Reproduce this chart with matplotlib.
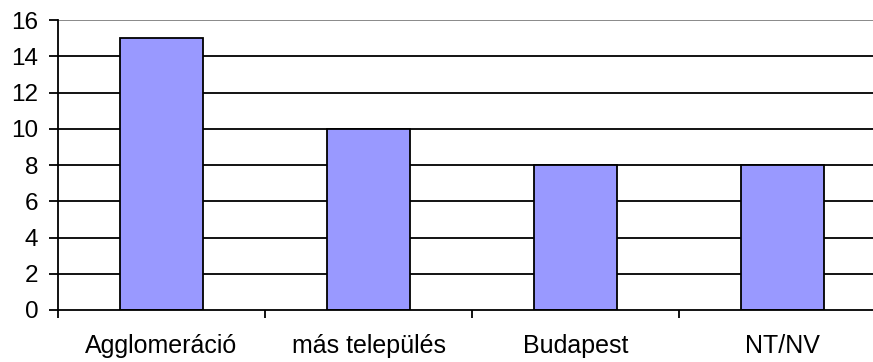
import matplotlib.pyplot as plt

categories = ['Agglomeráció', 'más település', 'Budapest', 'NT/NV']
values = [15, 10, 8, 8]
y_ticks = [0, 2, 4, 6, 8, 10, 12, 14, 16]

plt.rcParams['font.family'] = ['Liberation Sans', 'DejaVu Sans']

fig = plt.figure(figsize=(8.73, 3.62), dpi=100)
ax = fig.add_axes([58 / 873, 52 / 362, 828 / 873, 290 / 362])

x = list(range(len(categories)))
ax.bar(x, values, width=0.4, color='#9999ff', edgecolor='black', linewidth=1.3, zorder=3)

ax.set_xlim(-0.5, len(categories) - 0.5)
ax.set_ylim(0, 16)
ax.set_yticks(y_ticks)
for t in y_ticks[1:-1]:
    ax.axhline(t, color='black', linewidth=1.3, zorder=1)
ax.axhline(16, color='#808080', linewidth=1.3, zorder=1)

# category boundaries as major ticks, labels on minor ticks
ax.set_xticks([i - 0.5 for i in range(len(categories))])
ax.set_xticklabels([])
ax.set_xticks(x, minor=True)
ax.set_xticklabels(categories, minor=True)
ax.tick_params(axis='x', which='major', length=6, width=1.3, direction='out')
ax.tick_params(axis='x', which='minor', length=0, pad=17, labelsize=18)
ax.tick_params(axis='y', length=6.3, width=1.3, pad=8, labelsize=17.5)

for side in ['top', 'right']:
    ax.spines[side].set_visible(False)
for side in ['left', 'bottom']:
    ax.spines[side].set_linewidth(1.3)
    ax.spines[side].set_zorder(4)

fig.savefig('out.png', dpi=100)
